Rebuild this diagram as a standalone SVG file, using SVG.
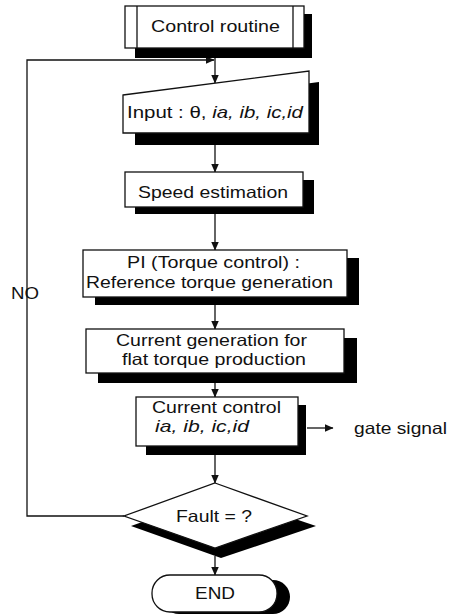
<svg xmlns="http://www.w3.org/2000/svg" width="459" height="616" viewBox="0 0 459 616">
<defs>
<marker id="ah" markerWidth="9" markerHeight="8" refX="8.5" refY="4" orient="auto" markerUnits="userSpaceOnUse">
<path d="M0,0 L9,4 L0,8 Z" fill="#111"/>
</marker>
</defs>
<style>
.box{fill:#fff;stroke:#111;stroke-width:1.3}
.sh{fill:#000}
.t{font-family:"Liberation Sans",Arial,sans-serif;font-size:16.5px;fill:#111}
.it{font-style:italic}
.c{fill:none;stroke:#111;stroke-width:1.3}
</style>
<rect width="459" height="616" fill="#fff"/>
<g id="connectors">
<line class="c" x1="215" y1="58" x2="215" y2="83" marker-end="url(#ah)"/>
<polyline class="c" points="124,516 27,516 27,60 214,60" marker-end="url(#ah)"/>
<line class="c" x1="215" y1="145" x2="215" y2="172" marker-end="url(#ah)"/>
<line class="c" x1="215" y1="214" x2="215" y2="250" marker-end="url(#ah)"/>
<line class="c" x1="215" y1="305" x2="215" y2="329" marker-end="url(#ah)"/>
<line class="c" x1="215" y1="383" x2="215" y2="397" marker-end="url(#ah)"/>
<line class="c" x1="215" y1="455" x2="215" y2="483" marker-end="url(#ah)"/>
<line class="c" x1="215" y1="556" x2="215" y2="575" marker-end="url(#ah)"/>
<line class="c" x1="307" y1="428" x2="333" y2="428" marker-end="url(#ah)"/>
<text class="t" x="11" y="299" textLength="28" lengthAdjust="spacingAndGlyphs">NO</text>
<text class="t" x="354" y="434" textLength="93" lengthAdjust="spacingAndGlyphs">gate signal</text>
</g>
<g id="control-routine">
<rect class="sh" x="135" y="14" width="177" height="44"/>
<rect class="box" x="125" y="6" width="179" height="42"/>
<line class="c" x1="137" y1="6" x2="137" y2="48"/>
<line class="c" x1="293" y1="6" x2="293" y2="48"/>
<text class="t" x="151" y="32" textLength="129" lengthAdjust="spacingAndGlyphs">Control routine</text>
</g>
<g id="input">
<polygon class="sh" points="135,106 319,82 319,145 135,145"/>
<polygon class="box" points="123,95 309,71 309,133 123,133"/>
<text class="t" x="127" y="118" textLength="176" lengthAdjust="spacingAndGlyphs">Input : θ, <tspan class="it">ia, ib, ic,id</tspan></text>
</g>
<g id="speed-estimation">
<rect class="sh" x="135" y="180" width="179" height="34"/>
<rect class="box" x="125" y="172" width="178" height="35"/>
<text class="t" x="138" y="198" textLength="150" lengthAdjust="spacingAndGlyphs">Speed estimation</text>
</g>
<g id="pi-control">
<rect class="sh" x="95" y="258" width="264" height="47"/>
<rect class="box" x="83" y="250" width="264" height="47"/>
<text class="t" x="127" y="268" textLength="173" lengthAdjust="spacingAndGlyphs">PI (Torque control) :</text>
<text class="t" x="86" y="288" textLength="247" lengthAdjust="spacingAndGlyphs">Reference torque generation</text>
</g>
<g id="current-generation">
<rect class="sh" x="98" y="338" width="259" height="45"/>
<rect class="box" x="86" y="329" width="258" height="44"/>
<text class="t" x="116" y="346" textLength="191" lengthAdjust="spacingAndGlyphs">Current generation for</text>
<text class="t" x="122" y="365" textLength="184" lengthAdjust="spacingAndGlyphs">flat torque production</text>
</g>
<g id="current-control">
<rect class="sh" x="146" y="405" width="160" height="50"/>
<rect class="box" x="136" y="397" width="162" height="49"/>
<text class="t" x="152" y="413" textLength="129" lengthAdjust="spacingAndGlyphs">Current control</text>
<text class="t it" x="155" y="432" textLength="94" lengthAdjust="spacingAndGlyphs">ia, ib, ic,id</text>
</g>
<g id="fault">
<polygon class="sh" points="221,494 316,526 221,558 131,526"/>
<polygon class="box" points="215,483 307,516 215,548 124,516"/>
<text class="t" x="176" y="522" textLength="76" lengthAdjust="spacingAndGlyphs">Fault = ?</text>
</g>
<g id="end">
<rect class="sh" x="162" y="580" width="128" height="34" rx="17"/>
<rect class="box" x="152" y="575" width="125" height="37" rx="18"/>
<text class="t" x="195" y="599" textLength="40" lengthAdjust="spacingAndGlyphs">END</text>
</g>
</svg>
